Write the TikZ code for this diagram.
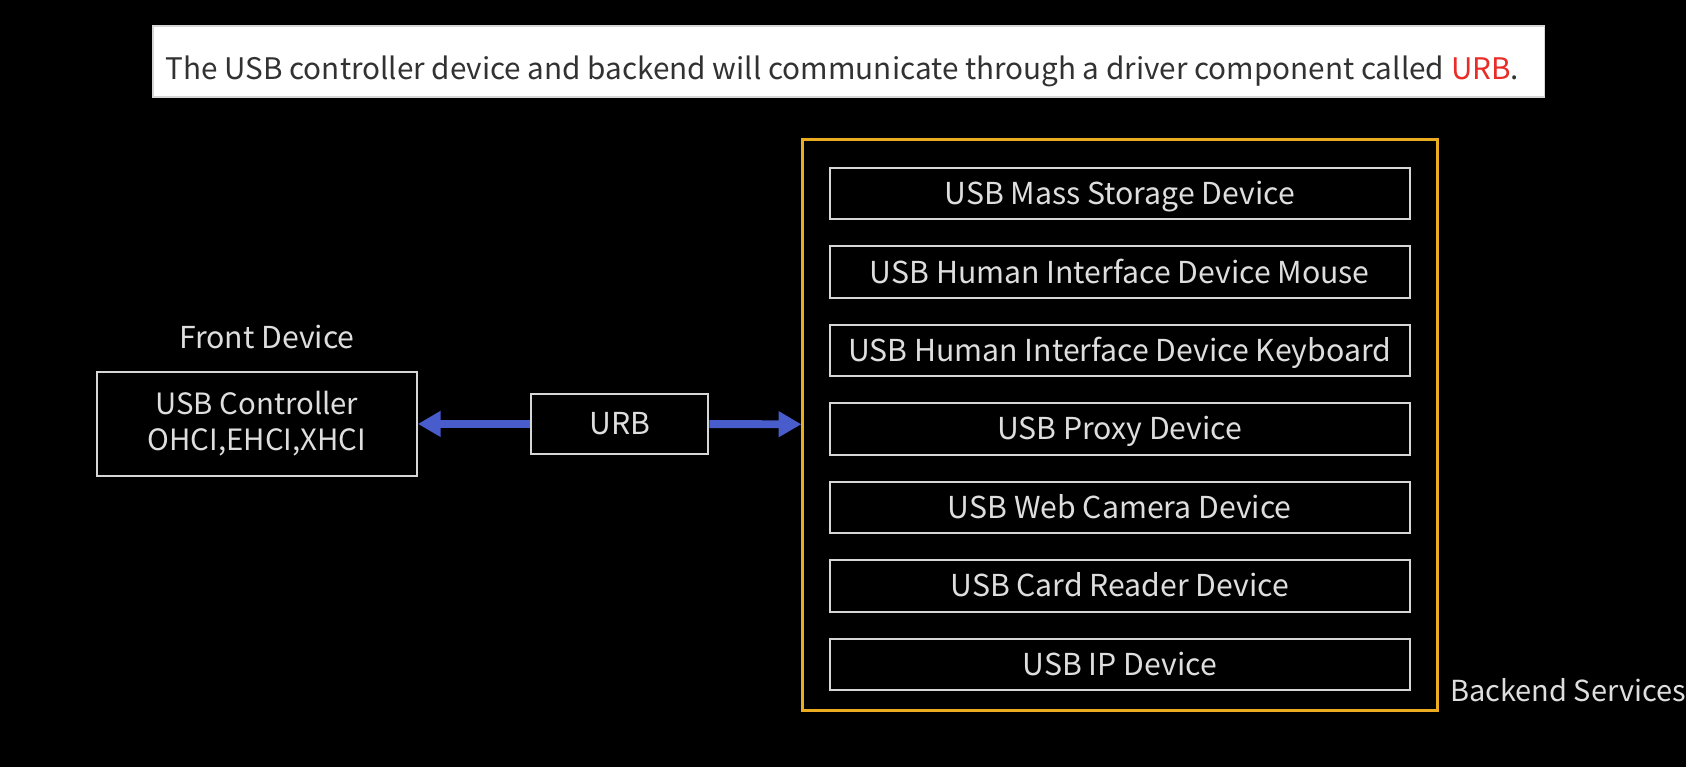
\documentclass[tikz,border=0pt]{standalone}
\usepackage{fontspec}
\setmainfont{Noto Sans CJK SC}
\usepackage{tikz}
\usetikzlibrary{arrows.meta,positioning}
\definecolor{boxgray}{RGB}{214,214,214}
\definecolor{textgray}{RGB}{222,222,222}
\definecolor{linkblue}{RGB}{72,92,204}
\definecolor{frameyellow}{RGB}{236,172,34}
\definecolor{urbred}{RGB}{232,44,40}
\definecolor{bannertext}{RGB}{50,50,50}

\begin{document}
\begin{tikzpicture}[x=0.02cm,y=-0.02cm]
\tikzset{boxbase/.style = {shape=rectangle,draw=boxgray,line width=1.1pt,text=textgray,inner sep=0pt,font=\fontsize{17.2}{20.5}\selectfont}}
\tikzset{devbox/.style = {boxbase,minimum width=11.6cm,minimum height=1.03cm,text height=17pt,text depth=4.4pt}}
\tikzset{label/.style = {text=textgray,inner sep=0pt,font=\fontsize{17.2}{20}\selectfont}}
\tikzset{link/.style = {-{Triangle[length=13pt,width=14pt]},line width=4.5pt,draw=linkblue}}
% background
\fill[black] (0,0) rectangle (1686,767);
% banner
\node[draw=boxgray,fill=white,line width=0.8pt,minimum width=27.84cm,minimum height=1.42cm,text height=22pt,text depth=1.4pt,text=bannertext,font=\fontsize{16.9}{20}\selectfont] (banner) at (849,61.5)
  {\hspace*{-0.26cm}The USB controller device and backend will communicate through a driver component called \textcolor{urbred}{URB}.};
% vertices
\node[draw=frameyellow,line width=1.7pt,minimum width=12.7cm,minimum height=11.44cm] (backend) at (1120.5,425) {};
\foreach \txt [count=\i] in {USB Mass Storage Device,USB Human Interface Device Mouse,USB Human Interface Device Keyboard,USB Proxy Device,USB Web Camera Device,USB Card Reader Device,USB IP Device}
  \node[devbox] (dev\i) at (1120,115+78.5*\i) {\txt};
\node[label,anchor=base west,font=\fontsize{16.5}{20}\selectfont] (bslabel) at (1450,702) {Backend Services};
\node[boxbase,minimum width=6.4cm,minimum height=2.08cm,align=center,font=\fontsize{16.7}{20.5}\selectfont] (ctrl) at (257,424) {USB Controller\\OHCI,EHCI,XHCI};
\node[label,above=0.44cm of ctrl,xshift=0.2cm] (front) {Front Device};
\node[devbox,minimum width=3.54cm,minimum height=1.2cm] (urb) at (620,424) {URB};
%edges
\draw[link] (urb) -- (ctrl);
\draw[link] (urb) -- (backend);
\end{tikzpicture}
\end{document}
